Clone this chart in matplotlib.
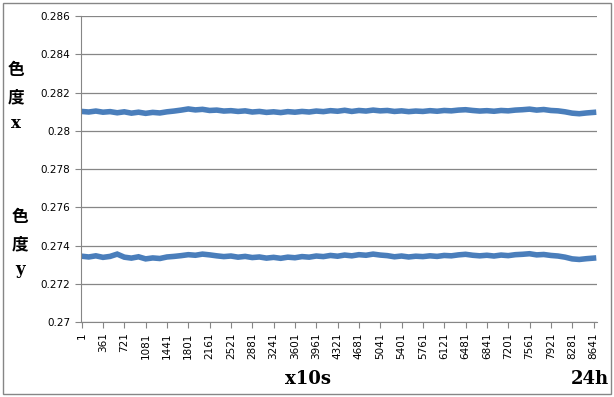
import matplotlib
matplotlib.use("Agg")
import matplotlib.pyplot as plt
from matplotlib.patches import Rectangle

# sample number (one sample every 10 s), read every 120 samples
sample_no = list(range(1, 8642, 120))

chroma_x = [0.28101, 0.28098, 0.28103, 0.28097, 0.28100, 0.28094, 0.28099, 0.28092, 0.28097, 0.28091,
            0.28096, 0.28093, 0.28099, 0.28103, 0.28108, 0.28114, 0.28109, 0.28112, 0.28106, 0.28108,
            0.28103, 0.28105, 0.28101, 0.28104, 0.28098, 0.28101, 0.28096, 0.28099, 0.28095, 0.28100,
            0.28097, 0.28101, 0.28098, 0.28103, 0.28100, 0.28105, 0.28102, 0.28107, 0.28101, 0.28106,
            0.28103, 0.28108, 0.28104, 0.28106, 0.28101, 0.28104, 0.28100, 0.28103, 0.28101, 0.28105,
            0.28102, 0.28106, 0.28104, 0.28108, 0.28110, 0.28106, 0.28103, 0.28105, 0.28102, 0.28106,
            0.28104, 0.28108, 0.28110, 0.28113, 0.28108, 0.28111, 0.28106, 0.28104, 0.28099, 0.28092,
            0.28089, 0.28093, 0.28096]

chroma_y = [0.27344, 0.27340, 0.27346, 0.27338, 0.27343, 0.27355, 0.27339, 0.27334, 0.27341, 0.27330,
            0.27335, 0.27332, 0.27340, 0.27343, 0.27347, 0.27352, 0.27349, 0.27355, 0.27351, 0.27346,
            0.27342, 0.27345, 0.27339, 0.27343, 0.27337, 0.27340, 0.27334, 0.27338, 0.27333, 0.27339,
            0.27336, 0.27342, 0.27339, 0.27345, 0.27342, 0.27348, 0.27344, 0.27350, 0.27346, 0.27352,
            0.27349, 0.27355, 0.27350, 0.27347, 0.27341, 0.27345, 0.27340, 0.27344, 0.27342, 0.27346,
            0.27343, 0.27348, 0.27346, 0.27351, 0.27354, 0.27349, 0.27346, 0.27349, 0.27345, 0.27350,
            0.27347, 0.27352, 0.27354, 0.27357, 0.27351, 0.27353, 0.27348, 0.27345, 0.27339, 0.27330,
            0.27327, 0.27331, 0.27334]

x_ticks = list(range(1, 8642, 360))
y_ticks = [0.27, 0.272, 0.274, 0.276, 0.278, 0.28, 0.282, 0.284, 0.286]

grey = "#868686"
blue = "#4a7ebb"

fig = plt.figure(figsize=(6.14, 3.97), dpi=100)
ax = fig.add_axes([81 / 614, 1 - 322 / 397, 516 / 614, 306 / 397])

ax.plot(sample_no, chroma_x, color=blue, lw=4, solid_joinstyle="miter")
ax.plot(sample_no, chroma_y, color=blue, lw=4, solid_joinstyle="miter")

ax.set_ylim(0.27, 0.286)
ax.set_xlim(-10, 8700)
ax.set_yticks(y_ticks)
ax.set_yticklabels([f"{v:g}" for v in y_ticks], fontsize=7.5)
ax.set_xticks(x_ticks)
ax.set_xticklabels([str(v) for v in x_ticks], rotation=90, fontsize=7.5)
ax.grid(axis="y", color=grey, lw=0.9)
ax.set_axisbelow(True)
for s in ["top", "right"]:
    ax.spines[s].set_visible(False)
for s in ["left", "bottom"]:
    ax.spines[s].set_color(grey)
ax.tick_params(colors=grey, length=4, labelcolor="black")

cjk = ["Noto Sans CJK JP", "DejaVu Sans"]
serif = "DejaVu Serif"
for ch, ypx in [("色", 70), ("度", 97)]:
    fig.text(16 / 614, 1 - ypx / 397, ch, family=cjk, fontsize=12, fontweight="bold",
             ha="center", va="center")
for ch, ypx in [("色", 217), ("度", 244)]:
    fig.text(20 / 614, 1 - ypx / 397, ch, family=cjk, fontsize=12, fontweight="bold",
             ha="center", va="center")
fig.text(16 / 614, 1 - 123 / 397, "x", family=serif, fontsize=12, fontweight="bold",
         ha="center", va="center")
fig.text(20 / 614, 1 - 270 / 397, "y", family=serif, fontsize=12, fontweight="bold",
         ha="center", va="center")
fig.text(308 / 614, 1 - 379 / 397, "x10s", family=serif, fontsize=13, fontweight="bold",
         ha="center", va="center")
fig.text(590 / 614, 1 - 379 / 397, "24h", family=serif, fontsize=13, fontweight="bold",
         ha="center", va="center")

fig.patches.append(Rectangle((2.5 / 614, 3 / 397), 608 / 614, 391 / 397,
                             transform=fig.transFigure, fill=False, edgecolor=grey, lw=1))

fig.savefig("out.png", dpi=100)
